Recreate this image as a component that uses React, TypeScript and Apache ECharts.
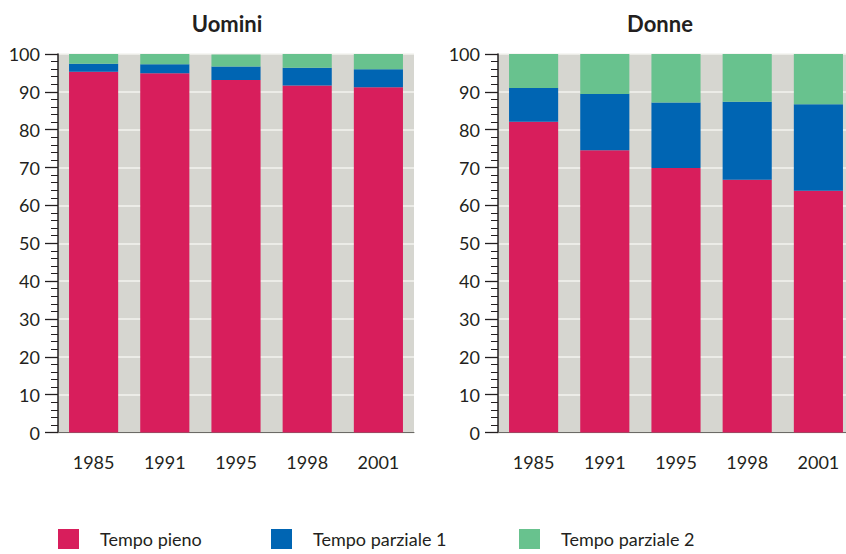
import React, { useEffect, useRef } from "react";
import * as echarts from "echarts";

const categories = ["1985", "1991", "1995", "1998", "2001"];
const seriesNames = ["Tempo pieno", "Tempo parziale 1", "Tempo parziale 2"];
const uominiPieno = [95.3, 94.9, 93.1, 91.7, 91.2];
const uominiParziale1 = [2.1, 2.4, 3.6, 4.7, 4.8];
const uominiParziale2 = [2.6, 2.7, 3.2, 3.6, 4.0];
const donnePieno = [82.1, 74.6, 69.9, 66.8, 63.9];
const donneParziale1 = [8.9, 14.8, 17.3, 20.6, 22.8];
const donneParziale2 = [9.0, 10.6, 12.8, 12.6, 13.3];
const panelTitles = ["Uomini", "Donne"];

const colors = ["#d81e5c", "#0065b3", "#68c28e"];
const ink = "#231f20";
const font = "Lato, 'Open Sans', sans-serif";

export default function App() {
  const ref = useRef<HTMLDivElement>(null);
  useEffect(() => {
    if (!ref.current) return;
    const chart = echarts.init(ref.current, null, { renderer: "svg" });
    const panels = [
      [uominiPieno, uominiParziale1, uominiParziale2],
      [donnePieno, donneParziale1, donneParziale2],
    ];
    const grids = [
      { left: 58, top: 54, width: 356, height: 378.5 },
      { left: 498, top: 54, width: 356, height: 378.5 },
    ].map((g) => ({
      ...g,
      show: true,
      backgroundColor: "#d6d6d0",
      borderWidth: 0,
      containLabel: false,
    }));
    const xAxes = [0, 1].map((i) => ({
      type: "category",
      gridIndex: i,
      data: categories,
      axisTick: { show: false },
      axisLine: { show: true, lineStyle: { color: "#6b6a66", width: 1 } },
      axisLabel: { color: ink, fontSize: 18, fontFamily: font, margin: 20 },
    }));
    const yAxes = [0, 1].map((i) => ({
      type: "value",
      gridIndex: i,
      min: 0,
      max: 100,
      interval: 10,
      axisLine: { show: true, lineStyle: { color: ink, width: 1.5 } },
      axisTick: { show: true, length: 13, lineStyle: { color: ink, width: 1.3 } },
      minorTick: { show: true, splitNumber: 5, length: 7, lineStyle: { color: ink, width: 1 } },
      splitLine: { show: true, lineStyle: { color: "#f3f3ef", width: 1.5 } },
      axisLabel: { color: ink, fontSize: 18, fontFamily: font, margin: 18 },
    }));
    const series: any[] = [];
    panels.forEach((vals, p) => {
      vals.forEach((data, k) => {
        series.push({
          type: "bar",
          name: seriesNames[k],
          xAxisIndex: p,
          yAxisIndex: p,
          stack: "s" + p,
          barWidth: "69%",
          data,
          itemStyle: { color: colors[k] },
        });
      });
    });
    const legendLefts = [58, 271, 519];
    const legend = seriesNames.map((n, k) => ({
      data: [n],
      left: legendLefts[k],
      top: 529,
      padding: 0,
      orient: "horizontal",
      icon: "rect",
      itemWidth: 21,
      itemHeight: 20,
      selectedMode: false,
      textStyle: {
        color: ink,
        fontSize: 18,
        fontFamily: font,
        padding: [6, 0, 0, 16],
      },
    }));
    chart.setOption({
      animation: false,
      grid: grids,
      xAxis: xAxes,
      yAxis: yAxes,
      series,
      legend,
      graphic: [
        {
          type: "text",
          x: 227,
          y: 23,
          style: {
            text: panelTitles[0],
            fill: ink,
            font: `bold 22px ${font}`,
            textAlign: "center",
            textVerticalAlign: "middle",
          },
        },
        {
          type: "text",
          x: 660,
          y: 23,
          style: {
            text: panelTitles[1],
            fill: ink,
            font: `bold 22px ${font}`,
            textAlign: "center",
            textVerticalAlign: "middle",
          },
        },
      ],
    });
    return () => chart.dispose();
  }, []);
  return (
    <div
      style={{
        position: "absolute",
        left: 0,
        top: 0,
        width: 846,
        height: 554,
        overflow: "hidden",
        background: "#fff",
      }}
    >
      <div ref={ref} style={{ width: 860, height: 554 }} />
    </div>
  );
}
